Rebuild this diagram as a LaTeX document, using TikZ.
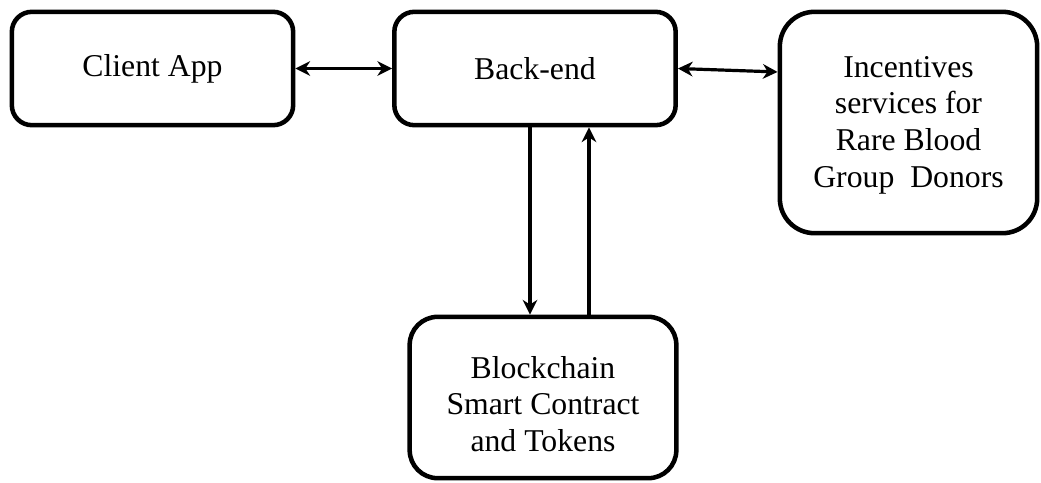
\documentclass[tikz,border=0pt]{standalone}
\usepackage{fontspec}
\setmainfont{Liberation Serif}
\usetikzlibrary{arrows.meta}

\tikzset{
  box/.style={draw, line width=3.4pt, rounded corners=15pt, align=center,
    font=\fontsize{23.8pt}{27.5pt}\selectfont, inner sep=0pt},
  link/.style={line width=2.4pt, >={Stealth[length=11pt,width=11pt,inset=3.5pt]}}
}

\begin{document}
\begin{tikzpicture}[x=0.75pt,y=-0.75pt]
\useasboundingbox (0,0) rectangle (1041,482);
\node[box, minimum width=211pt, minimum height=85pt] (client) at (152.5,68.5) {Client App};
\node[box, minimum width=211pt, minimum height=85pt] (backend) at (535,68.5) {Back-end};
\node[box, rounded corners=26pt, minimum width=193pt, minimum height=166pt, text height=102pt] (incent) at (908.5,122.5)
  {Incentives\\services for\\Rare Blood\\Group\ \ Donors};
\node[box, rounded corners=21pt, minimum width=200pt, minimum height=121pt, text height=81pt] (chain) at (543,397.5)
  {Blockchain\\Smart Contract\\and Tokens};
% connectors
\draw[link,<->] (client.east) -- (backend.west);
\draw[link,<->] (backend.east) -- ([yshift=37.9pt]incent.west);
\draw[link,->] ([xshift=-3.75pt]backend.south) -- ([xshift=-3.75pt]backend.south |- chain.north);
\draw[link,->] ([xshift=40.5pt]backend.south |- chain.north) -- ([xshift=40.5pt]backend.south);
\end{tikzpicture}
\end{document}
